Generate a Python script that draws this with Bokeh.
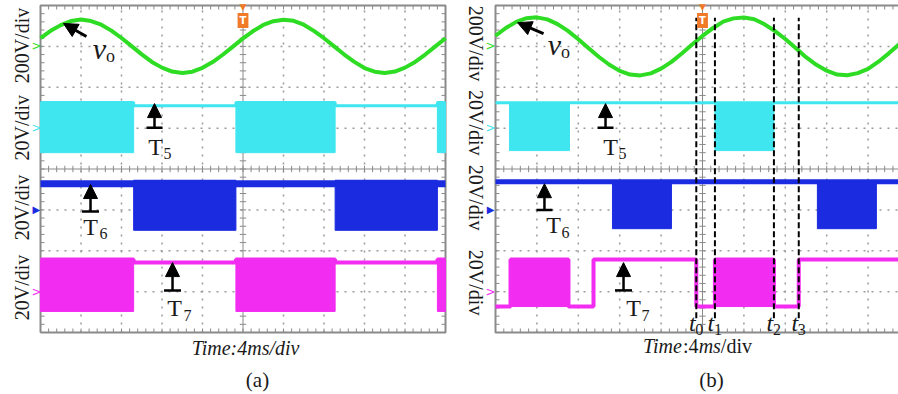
import numpy as np
from bokeh.plotting import figure
from bokeh.models import Range1d, Label, Arrow, NormalHead, TeeHead
from bokeh.layouts import row
from bokeh.embed import file_html
from bokeh.resources import INLINE

FONT = "Liberation Serif"

# ---------------- data ----------------
# output voltage vo (V), one sample per ms, 200 V/div
t_vo_a = list(range(0, 41))
vo_a = [40, 76, 104, 124, 131, 124, 106, 77, 41, 1,
        -39, -76, -104, -123, -130, -124, -105, -77, -41, -1,
        39, 75, 105, 123, 130, 125, 106, 76, 40, 0,
        -40, -76, -106, -124, -130, -123, -104, -76, -40, 0, 40]
t_vo_b = list(range(0, 40))
vo_b = [52, 90, 120, 138, 142, 132, 109, 76, 35, -9,
        -52, -90, -120, -138, -142, -132, -109, -76, -35, 9,
        51, 89, 121, 137, 141, 133, 108, 75, 36, -8,
        -53, -90, -119, -138, -141, -131, -110, -75, -34, 10]

# switch voltages, 20 V/div: segment edges (ms) and state of each segment
edges_t5_a = [0, 9.2, 19.3, 29.1, 39.2, 40]
state_t5_a = ["pwm", "on", "pwm", "on", "pwm"]
edges_t6_a = [0, 9.2, 19.3, 29.1, 39.2, 40]
state_t6_a = ["on", "pwm", "on", "pwm", "on"]
edges_t7_a = [0, 9.2, 19.3, 29.1, 39.2, 40]
state_t7_a = ["pwm", "on", "pwm", "on", "pwm"]

edges_t5_b = [0, 1.35, 7.15, 21.2, 26.9, 39]
state_t5_b = ["on", "pwm", "on", "pwm", "on"]
edges_t6_b = [0, 11.3, 17.0, 31.1, 36.8, 39]
state_t6_b = ["on", "pwm", "on", "pwm", "on"]
edges_t7_b = [0, 1.45, 7.05, 9.47, 19.4, 21.2, 26.9, 29.3, 39]
state_t7_b = ["off", "pwm", "off", "on", "off", "pwm", "off", "on"]

# levels (V): on level, off level, pwm top, pwm bottom
lv_t5_a = [11.0, -12.0, 12.5, -12.0]
lv_t6_a = [12.8, -10.0, 13.0, -10.0]
lv_t7_a = [14.2, -10.0, 15.7, -9.7]
lv_t5_b = [12.4, -11.0, 12.4, -11.0]
lv_t6_b = [13.8, -9.2, 13.8, -9.2]
lv_t7_b = [15.7, -7.3, 15.7, -7.3]

# interval instants in (b)
t_marks = [19.4, 21.2, 26.9, 29.3]
t_mark_subs = ["0", "1", "2", "3"]

scale_labels = ["200V/div", "20V/div", "20V/div", "20V/div"]
channel_refs = [7, 5, 3, 1]
channel_scales = [200, 20, 20, 20]

COL_VO = "#2edc24"
COL_T5 = "#3fe6f0"
COL_T6 = "#1b2be0"
COL_T7 = "#f22cf0"
ORANGE = "#f07a28"
GRID = "#9a9a9a"
FRAME = "#8a8a8a"
TXT = "#1a1a1a"
PX_Y = 327 / 8.0
Y0 = -62 / PX_Y
Y1 = 8 + 5 / PX_Y


def switch_trace(p, edges, states, lv, ref, color, lw):
    on, off, ptop, pbot = lv
    xs, ys, ql, qr, qt, qb = [], [], [], [], [], []
    for i, s in enumerate(states):
        a, b = edges[i], edges[i + 1]
        if s == "pwm":
            ql.append(a); qr.append(b)
            qt.append(ref + ptop / 20.0); qb.append(ref + pbot / 20.0)
            lev = ref + ptop / 20.0
        elif s == "on":
            lev = ref + on / 20.0
        else:
            lev = ref + off / 20.0
        xs += [a, b]; ys += [lev, lev]
    p.line(xs, ys, line_color=color, line_width=lw)
    if ql:
        p.quad(left=ql, right=qr, top=qt, bottom=qb, fill_color=color,
               line_color=color, line_width=1)


def label(p, x, y, text, size, **kw):
    kw.setdefault("text_align", "center")
    kw.setdefault("text_baseline", "middle")
    kw.setdefault("text_color", TXT)
    kw.setdefault("text_font", FONT)
    p.add_layout(Label(x=x, y=y, text=text, text_font_size=f"{size}px", **kw))


def tee_arrow(p, x, y_tail, y_tip, bar):
    p.add_layout(Arrow(start=TeeHead(size=bar, line_width=2.5, line_color="black"),
                       end=NormalHead(size=14, fill_color="black", line_color="black"),
                       x_start=x, y_start=y_tail, x_end=x, y_end=y_tip,
                       line_width=2.5, line_color="black"))


def tsub(p, x, y, main, sub, dx_sub, italic=False, size=24, subsize=16):
    label(p, x, y, main, size, text_font_style="italic" if italic else "normal")
    label(p, x, y, sub, subsize, x_offset=dx_sub, y_offset=-7)


def panel(fw, left_px, px_div, xmax, right_edge):
    x0 = -left_px / px_div * 4.0
    x1 = (fw - left_px) / px_div * 4.0
    p = figure(frame_width=fw, frame_height=394,
               x_range=Range1d(x0, x1), y_range=Range1d(Y0, Y1),
               output_backend="svg", toolbar_location=None,
               x_axis_location=None, y_axis_location=None,
               min_border=0, min_border_left=0, min_border_right=0,
               min_border_top=0, min_border_bottom=0,
               background_fill_color="white", border_fill_color="white")
    p.xgrid.grid_line_color = None
    p.ygrid.grid_line_color = None
    p.outline_line_color = None
    # dotted division grid
    gx = [x for x in np.arange(4, xmax - 0.5, 4) if abs(x - 20) > 0.01]
    gy = [y for y in range(1, 8) if y != 4]
    p.segment(gx, 0, gx, 8, line_color=GRID, line_width=1.5, line_dash="2 6")
    p.segment(0, gy, xmax, gy, line_color=GRID, line_width=1.5, line_dash="2 6")
    p.segment([20, 0], [0, 4], [20, xmax], [8, 4], line_color=FRAME, line_width=1)
    # minor ticks
    kx = 4.0 / px_div * 4.0
    ky = 4.0 / PX_Y
    xm = np.arange(0, xmax + 1e-6, 0.8)
    ym = np.arange(0, 8 + 1e-6, 0.2)
    tk = dict(line_color=FRAME, line_width=1)
    p.segment(xm, 0, xm, ky, **tk)
    p.segment(xm, 8, xm, 8 - ky, **tk)
    p.segment(0, ym, kx, ym, **tk)
    if right_edge:
        p.segment(xmax, ym, xmax - kx, ym, **tk)
    p.segment(20 - 0.8 * kx, ym, 20 + 0.8 * kx, ym, **tk)
    p.segment(xm, 4 - 0.8 * ky, xm, 4 + 0.8 * ky, **tk)
    # frame
    if right_edge:
        p.line([0, xmax, xmax, 0, 0], [0, 0, 8, 8, 0], line_color=FRAME, line_width=2)
    else:
        p.line([x1 + 1, 0, 0, x1 + 1], [8, 8, 0, 0], line_color=FRAME, line_width=2)
    return p


# ---------------- panel (a) ----------------
pa = panel(450, 40, 40.5, 40.0, True)
pa.line(t_vo_a, [channel_refs[0] + v / channel_scales[0] for v in vo_a],
        line_color=COL_VO, line_width=4)
switch_trace(pa, edges_t5_a, state_t5_a, lv_t5_a, channel_refs[1], COL_T5, 3)
switch_trace(pa, edges_t6_a, state_t6_a, lv_t6_a, channel_refs[2], COL_T6, 7)
switch_trace(pa, edges_t7_a, state_t7_a, lv_t7_a, channel_refs[3], COL_T7, 4)

# ---------------- panel (b) ----------------
XB = 403 / 41.4 * 4.0
pb = panel(448, 45, 41.4, XB, False)
pb.line(t_vo_b, [channel_refs[0] + v / channel_scales[0] for v in vo_b],
        line_color=COL_VO, line_width=4)
switch_trace(pb, edges_t5_b, state_t5_b, lv_t5_b, channel_refs[1], COL_T5, 3)
switch_trace(pb, edges_t6_b, state_t6_b, lv_t6_b, channel_refs[2], COL_T6, 5)
switch_trace(pb, edges_t7_b, state_t7_b, lv_t7_b, channel_refs[3], COL_T7, 4)
pb.segment(x0=t_marks, y0=0.35, x1=t_marks, y1=7.7, line_color="black",
           line_width=2, line_dash="6 3")

# ---------------- annotations ----------------
chan_cols = [COL_VO, COL_T5, COL_T6, COL_T7]
for p, lx, ang, ys, mx in [(pa, -1.78, np.pi / 2, [7.02, 5.01, 3.06, 1.10], -0.4),
                           (pb, -1.93, -np.pi / 2, [7.07, 5.13, 3.30, 1.22], -0.48)]:
    for txt, y in zip(scale_labels, ys):
        label(p, lx, y, txt, 20, angle=ang)
    for i, (ref, c) in enumerate(zip(channel_refs, chan_cols)):
        if i == 2:
            label(p, mx, ref, "\u25B6", 10, text_color=c, text_font="DejaVu Sans")
        else:
            label(p, mx, ref, ">", 12, text_color=c, text_font="DejaVu Sans")
    # trigger marker
    label(p, 20, 8 - 1.5 / PX_Y, "\u25BC", 9, text_color=ORANGE, text_font="DejaVu Sans")
    label(p, 20, 8 - 15 / PX_Y, "T", 10, text_color="white", text_font="DejaVu Sans",
          text_font_style="bold", background_fill_color=ORANGE, padding=2)

# panel (a) marks
pa.add_layout(Arrow(end=NormalHead(size=14, fill_color="black", line_color="black"),
                    x_start=4.54, y_start=7.24, x_end=2.27, y_end=7.56,
                    line_width=3, line_color="black"))
tsub(pa, 5.83, 6.94, "v", "o", 11, italic=True, size=30, subsize=18)
tee_arrow(pa, 11.26, 5.01, 5.60, 16)
tsub(pa, 11.36, 4.55, "T", "5", 12)
tee_arrow(pa, 4.94, 2.96, 3.62, 17)
tsub(pa, 4.94, 2.59, "T", "6", 13)
tee_arrow(pa, 13.04, 1.03, 1.71, 17)
tsub(pa, 13.24, 0.59, "T", "7", 13)
label(pa, 20.25, -0.37, "Time:4ms/div", 20, text_font_style="italic")
label(pa, 21.43, -1.17, "(a)", 21)

# panel (b) marks
pb.add_layout(Arrow(end=NormalHead(size=14, fill_color="black", line_color="black"),
                    x_start=4.64, y_start=7.31, x_end=2.13, y_end=7.58,
                    line_width=3, line_color="black"))
tsub(pb, 5.70, 7.04, "v", "o", 11, italic=True, size=30, subsize=18)
tee_arrow(pb, 10.63, 5.01, 5.60, 16)
tsub(pb, 11.11, 4.55, "T", "5", 12)
tee_arrow(pb, 4.73, 3.0, 3.64, 16)
tsub(pb, 5.60, 2.62, "T", "6", 12)
tee_arrow(pb, 12.37, 1.03, 1.71, 17)
tsub(pb, 13.33, 0.59, "T", "7", 12)
for tm, sub in zip(t_marks, t_mark_subs):
    label(pb, tm, 0.24, "t", 24, text_font_style="italic", x_offset=-4)
    label(pb, tm, 0.24, sub, 16, x_offset=3, y_offset=-7)
for txt, dx, st in [("Time", -54.5, "italic"), (":4", -14.5, "normal"),
                    ("ms", 1.1, "italic"), ("/div", 23.3, "normal")]:
    label(pb, 19.52, -0.32, txt, 20, text_align="left", x_offset=dx, text_font_style=st)
label(pb, 20.87, -1.17, "(b)", 21)

layout = row(pa, pb)
open("out.html", "w").write(file_html(layout, INLINE))
